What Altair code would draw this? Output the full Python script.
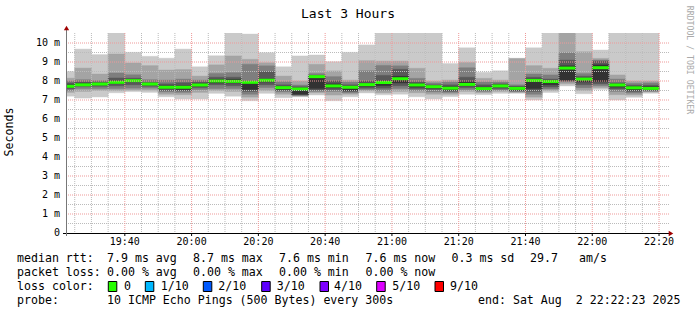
import altair as alt
import pandas as pd

# ---------------- data (milliseconds) ----------------
FIRST_STEP = 19 * 60 + 20          # first 5-minute step starts 19:20 (minutes of day)
STEP = 5
END_MIN = 22 * 60 + 22 + 23 / 60   # end: 22:22:23
START_MIN = END_MIN - 180          # last 3 hours

median = [7.72, 7.8, 7.84, 7.93, 8.02, 7.84, 7.67, 7.67, 7.79, 8.0, 7.98, 7.93, 8.04, 7.65, 7.58, 8.23, 7.74, 7.67,
          7.81, 7.92, 8.12, 7.79, 7.7, 7.62, 7.82, 7.6, 7.74, 7.61, 8.03, 7.97, 8.68, 8.1, 8.7, 7.79, 7.64, 7.61]
p10 = [8.5, 9.68, 9.39, 11.0, 9.51, 9.3, 9.2, 9.68, 8.75, 9.33, 10.8, 10.47, 9.49, 8.75, 9.32, 9.37, 9.02, 9.51,
       9.9, 10.8, 10.8, 10.8, 10.8, 8.92, 9.75, 8.46, 8.54, 9.2, 9.75, 10.8, 11.0, 10.8, 9.63, 10.8, 10.8, 10.8]
p9 = [8.15, 8.68, 8.37, 9.42, 8.95, 8.81, 8.58, 8.6, 8.26, 8.85, 9.32, 9.14, 8.96, 8.26, 8.0, 8.88, 8.53, 8.05,
      9.07, 9.05, 9.05, 8.67, 8.0, 8.05, 8.98, 8.14, 8.05, 9.18, 8.81, 8.67, 10.8, 9.54, 9.19, 8.32, 8.0, 8.0]
p8 = [8.0, 8.07, 8.02, 8.42, 8.33, 8.07, 8.05, 8.1, 8.05, 8.4, 8.44, 8.88, 8.8, 7.96, 7.79, 8.4, 8.23, 7.95,
      8.54, 8.82, 8.8, 8.14, 7.9, 7.95, 8.7, 7.95, 7.95, 7.8, 8.37, 8.32, 9.49, 8.4, 9.1, 8.1, 7.88, 7.9]
p7 = [7.9, 7.95, 7.95, 8.16, 8.15, 7.93, 7.85, 7.91, 7.95, 8.2, 8.2, 8.0, 8.49, 7.8, 7.7, 8.3, 8.0, 7.8,
      8.0, 8.3, 8.62, 7.95, 7.8, 7.8, 8.2, 7.8, 7.85, 7.72, 8.2, 8.1, 9.1, 8.25, 9.05, 7.9, 7.78, 7.78]
p6 = [7.8, 7.87, 7.88, 8.0, 8.07, 7.88, 7.75, 7.75, 7.85, 8.08, 8.08, 7.97, 8.1, 7.7, 7.62, 8.26, 7.85, 7.72,
      7.88, 8.0, 8.25, 7.85, 7.75, 7.7, 7.95, 7.68, 7.8, 7.68, 8.1, 8.02, 8.8, 8.15, 8.85, 7.82, 7.7, 7.7]
p5 = [7.65, 7.77, 7.8, 7.88, 7.97, 7.8, 7.6, 7.55, 7.73, 7.9, 7.9, 7.55, 7.95, 7.55, 7.3, 7.6, 7.65, 7.5,
      7.72, 7.75, 7.9, 7.68, 7.62, 7.52, 7.75, 7.55, 7.68, 7.52, 7.6, 7.8, 8.05, 7.95, 7.96, 7.68, 7.52, 7.55]
p4 = [7.6, 7.72, 7.72, 7.75, 7.8, 7.72, 7.5, 7.48, 7.65, 7.8, 7.75, 7.45, 7.8, 7.5, 7.27, 7.52, 7.55, 7.45,
      7.62, 7.62, 7.75, 7.6, 7.55, 7.46, 7.65, 7.5, 7.6, 7.48, 7.45, 7.68, 8.0, 7.8, 7.85, 7.58, 7.45, 7.5]
p3 = [7.5, 7.6, 7.6, 7.6, 7.62, 7.62, 7.42, 7.4, 7.55, 7.6, 7.6, 7.3, 7.65, 7.42, 7.24, 7.45, 7.45, 7.38,
      7.55, 7.5, 7.6, 7.5, 7.42, 7.4, 7.55, 7.45, 7.52, 7.44, 7.3, 7.58, 7.95, 7.65, 7.75, 7.45, 7.36, 7.46]
p2 = [7.4, 7.45, 7.5, 7.5, 7.52, 7.52, 7.3, 7.28, 7.4, 7.5, 7.45, 7.15, 7.5, 7.3, 7.2, 7.38, 7.26, 7.3,
      7.48, 7.38, 7.45, 7.38, 7.3, 7.3, 7.45, 7.38, 7.45, 7.4, 7.15, 7.5, 7.85, 7.5, 7.65, 7.28, 7.26, 7.42]
p1 = [7.2, 7.1, 7.16, 7.38, 7.44, 7.4, 7.17, 7.05, 7.05, 7.35, 7.2, 6.96, 7.35, 7.12, 7.17, 7.26, 6.96, 7.17,
      7.37, 7.27, 7.3, 7.17, 7.05, 7.18, 7.3, 7.28, 7.35, 7.35, 7.0, 7.4, 7.74, 7.33, 7.56, 7.0, 7.14, 7.35]

x_tick_minutes = [19 * 60 + 40 + 20 * k for k in range(9)]  # 19:40 ... 22:20
y_ticks = list(range(0, 11))

loss_labels = ["0", "1/10", "2/10", "3/10", "4/10", "5/10", "9/10"]
loss_colors = ["#26ff00", "#00b8ff", "#0059ff", "#5e00ff", "#7e00ff", "#dd00ff", "#ff0000"]

stats_rtt = ["7.9 ms avg", "8.7 ms max", "7.6 ms min", "7.6 ms now", "0.3 ms sd", "29.7", "am/s"]
stats_loss = ["0.00 % avg", "0.00 % max", "0.00 % min", "0.00 % now"]
probe_text = "10 ICMP Echo Pings (500 Bytes) every 300s"
end_text = "end: Sat Aug\u00a0\u00a02 22:22:23 2025"

# ---------------- tables ----------------
pings = [p1, p2, p3, p4, p5, p6, p7, p8, p9, p10]
rows = []
for k in range(5):
    for i in range(len(median)):
        s = FIRST_STEP + STEP * i
        rows.append({"t0": s, "t1": s + STEP, "lo": pings[k][i], "hi": pings[9 - k][i], "layer": k})
smoke = pd.DataFrame(rows)
med = pd.DataFrame({"t0": [FIRST_STEP + STEP * i for i in range(len(median))],
                    "t1": [FIRST_STEP + STEP * (i + 1) for i in range(len(median))],
                    "median": median})

minor_x = pd.DataFrame({"m": [m for m in range(FIRST_STEP + 5, int(END_MIN), 5) if m % 20 != 0]})
major_x = pd.DataFrame({"m": x_tick_minutes})
minor_y = pd.DataFrame({"v": [k + 0.5 for k in range(10)]})
major_y = pd.DataFrame({"v": list(range(1, 11))})
y_lab = pd.DataFrame({"v": y_ticks})

# ---------------- chart ----------------
W, H = 601, 200
MONO = "DejaVu Sans Mono"
xscale = alt.Scale(domain=[START_MIN, END_MIN], nice=False, zero=False)
yscale = alt.Scale(domain=[0, 200 / 19], nice=False, zero=True)
grays = ["#cacaca", "#a4a4a4", "#7e7e7e", "#585858", "#323232"]
GRID_MINOR = "#bbbbbb"
GRID_MAJOR = "#ee9999"

X = lambda f: alt.X(f, scale=xscale, axis=None)
Y = lambda f: alt.Y(f, scale=yscale, axis=None)

smoke_layer = alt.Chart(smoke).mark_rect(clip=True, strokeWidth=0.4).encode(
    x=X("t0:Q"), x2="t1:Q", y=Y("lo:Q"), y2="hi:Q",
    color=alt.Color("layer:O", scale=alt.Scale(domain=[0, 1, 2, 3, 4], range=grays), legend=None),
    stroke=alt.Stroke("layer:O", scale=alt.Scale(domain=[0, 1, 2, 3, 4], range=grays), legend=None),
)

median_layer = alt.Chart(med).mark_rule(clip=True, strokeWidth=3, color="#26ff00").encode(
    x=X("t0:Q"), x2="t1:Q", y=Y("median:Q"))

grid_minor_x = alt.Chart(minor_x).mark_rule(color=GRID_MINOR, strokeWidth=1, strokeDash=[1, 1]).encode(
    x=X("m:Q"), y=alt.value(0), y2=alt.value(H))
grid_major_x = alt.Chart(major_x).mark_rule(color=GRID_MAJOR, strokeWidth=1, strokeDash=[1, 1]).encode(
    x=X("m:Q"), y=alt.value(0), y2=alt.value(H))
grid_minor_y = alt.Chart(minor_y).mark_rule(color=GRID_MINOR, strokeWidth=1, strokeDash=[1, 1]).encode(
    y=Y("v:Q"), x=alt.value(0), x2=alt.value(W + 2))
grid_major_y = alt.Chart(major_y).mark_rule(color=GRID_MAJOR, strokeWidth=1, strokeDash=[1, 1]).encode(
    y=Y("v:Q"), x=alt.value(0), x2=alt.value(W + 2))

# tick labels drawn through the scales ("0" keeps the digit column, like rrdtool)
y_labels = alt.Chart(y_lab).transform_calculate(
    lab="datum.v == 0 ? '0\u00a0\u00a0' : datum.v + '\u00a0m'"
).mark_text(font=MONO, fontSize=10, color="#000000", align="right", baseline="middle").encode(
    y=Y("v:Q"), x=alt.value(-6), text="lab:N")
x_labels = alt.Chart(major_x).transform_calculate(
    lab="timeFormat(datetime(2025, 7, 2, 0, datum.m, 0), '%H:%M')"
).mark_text(font=MONO, fontSize=10, color="black", align="center", baseline="middle").encode(
    x=X("m:Q"), y=alt.value(H + 9), text="lab:N")
x_ticks = alt.Chart(major_x).mark_rule(color="black", strokeWidth=1).encode(
    x=X("m:Q"), y=alt.value(H), y2=alt.value(H + 3))

one = pd.DataFrame({"a": [0]})
x_axis_line = alt.Chart(one).mark_rule(color="black", strokeWidth=1).encode(
    x=alt.value(-3), x2=alt.value(W + 2), y=alt.value(H + 0.5))
y_axis_line = alt.Chart(one).mark_rule(color="#777777", strokeWidth=1).encode(
    x=alt.value(0.5), y=alt.value(H + 3), y2=alt.value(-3))
x_arrow = alt.Chart(one).mark_point(shape="triangle-right", filled=True, color="#a00000", size=28, opacity=1).encode(
    x=alt.value(W + 4), y=alt.value(H + 0.5))
y_arrow = alt.Chart(one).mark_point(shape="triangle-up", filled=True, color="#a00000", size=28, opacity=1).encode(
    x=alt.value(0.5), y=alt.value(-5))


def txt(s, x, y, size=11.6, color="black", angle=0, align="left"):
    return alt.Chart(pd.DataFrame({"t": [s]})).mark_text(
        font=MONO, fontSize=size, color=color, angle=angle, align=align, baseline="middle"
    ).encode(text="t:N", x=alt.value(x), y=alt.value(y))


texts = [
    txt("Last 3 Hours", 282, -19, size=13, align="center"),
    txt("Seconds", -56, 99, angle=270, align="center"),
    txt("RRDTOOL / TOBI OETIKER", 623, 27, size=8.2, color="#aaaaaa", angle=90, align="center"),
]

# legend layout (pixel offsets from plot origin)
row_y = [226, 240, 253.5, 268]
col_label = -49
rtt_x = [41, 127, 213, 299.5, 385.5, 464, 513]
loss_x = [41, 127, 213, 299.5]
texts.append(txt("median rtt:", col_label, row_y[0]))
for s, x in zip(stats_rtt, rtt_x):
    texts.append(txt(s, x, row_y[0]))
texts.append(txt("packet loss:", col_label, row_y[1]))
for s, x in zip(stats_loss, loss_x):
    texts.append(txt(s, x, row_y[1]))
texts.append(txt("loss color:", col_label, row_y[2]))
box_left = [42.3, 79.3, 137.3, 195.7, 254, 310.7, 369]
label_left = [58, 94.7, 152.3, 210.7, 268, 326.3, 384]
boxes = []
for lab, col, bx, lx in zip(loss_labels, loss_colors, box_left, label_left):
    boxes.append(alt.Chart(one).mark_rect(fill=col, stroke="black", strokeWidth=1).encode(
        x=alt.value(bx), x2=alt.value(bx + 8.5), y=alt.value(row_y[2] - 5), y2=alt.value(row_y[2] + 5)))
    texts.append(txt(lab, lx, row_y[2]))
texts.append(txt("probe:", col_label, row_y[3]))
texts.append(txt(probe_text, 41, row_y[3]))
texts.append(txt(end_text, 412, row_y[3]))

chart = alt.layer(
    smoke_layer, median_layer,
    grid_minor_x, grid_minor_y, grid_major_x, grid_major_y,
    x_axis_line, y_axis_line, x_ticks, x_arrow, y_arrow, y_labels, x_labels,
    *boxes, *texts,
).properties(
    width=W, height=H,
    padding={"left": 66, "top": 33, "right": 30, "bottom": 82},
    autosize=alt.AutoSizeParams(type="none"),
    background="white",
).configure_view(stroke=None)

chart.save("out.html", embed_options={"renderer": "svg", "actions": False})
